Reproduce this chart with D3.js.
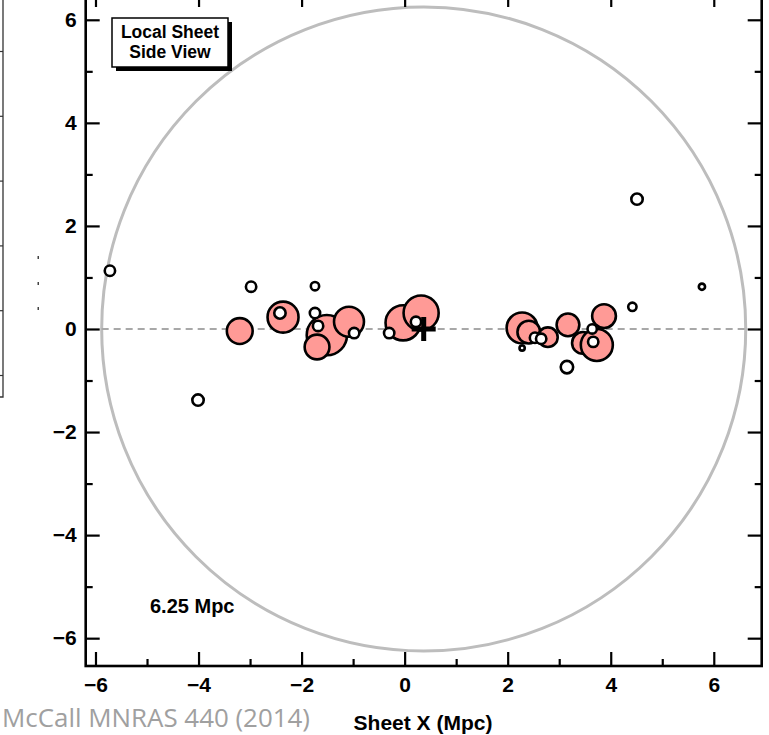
<!DOCTYPE html>
<html>
<head>
<meta charset="utf-8">
<script src="https://cdn.jsdelivr.net/npm/d3@7"></script>
<style>
  body { margin: 0; background: #fff; }
  svg { display: block; }
</style>
</head>
<body>
<div id="chart"></div>
<script>
// galaxies seen edge-on: x, z (Mpc) and symbol radius (Mpc)
const bigX = [-3.20, -2.36, -1.51, -1.70, -1.08, -0.03, 0.32, 2.28, 2.41, 2.78, 3.17, 3.46, 3.73, 3.87];
const bigZ = [-0.04, 0.23, -0.12, -0.35, 0.14, 0.12, 0.31, 0.02, -0.06, -0.16, 0.08, -0.27, -0.31, 0.25];
const bigR = [0.27, 0.32, 0.41, 0.26, 0.31, 0.36, 0.36, 0.32, 0.24, 0.21, 0.24, 0.23, 0.33, 0.25];

const smallX = [-5.72, -4.01, -2.98, -1.74, -2.42, -1.74, -1.68, -0.98, -0.30, 0.22, 4.51, 4.42, 5.77, 3.15, 2.28, 2.53, 2.65, 3.64, 3.66];
const smallZ = [1.13, -1.38, 0.82, 0.83, 0.31, 0.31, 0.06, -0.08, -0.08, 0.14, 2.52, 0.43, 0.82, -0.74, -0.37, -0.17, -0.19, 0.00, -0.25];
const smallR = [0.12, 0.13, 0.12, 0.10, 0.13, 0.12, 0.12, 0.12, 0.12, 0.12, 0.13, 0.10, 0.08, 0.14, 0.07, 0.12, 0.12, 0.11, 0.12];

const centre = [0.37, 0];
const sphereRadius = 6.25;
const majorTicks = [-6, -4, -2, 0, 2, 4, 6];
const minorTicks = [-5, -3, -1, 1, 3, 5];
const leftPanelTicks = [0, 1, 2, 3, 4, 5];

const width = 769;
const height = 735;
const plotLeft = 85.7, plotRight = 761.7, plotTop = -7, plotBottom = 666;

const svg = d3
  .select("#chart")
  .append("svg")
  .attr("width", width)
  .attr("height", height)
  .style("font-family", "'Liberation Sans', Arial, sans-serif");

const xScale = d3.scaleLinear().domain([-6.19, 6.93]).range([plotLeft, plotRight]);
const yScale = d3.scaleLinear().domain([-6.54, 6.52]).range([plotBottom, plotTop]);
const rad = (r) => xScale(r) - xScale(0);

// edge of the neighbouring panel
const panelScale = d3.scaleLinear().domain([0, 5]).range([375, 51]);
const panel = svg.append("g").attr("transform", "translate(3,0)");
panel
  .call(d3.axisLeft(panelScale).tickValues(leftPanelTicks).tickFormat("").tickSize(3).tickSizeOuter(0))
  .call((g) => g.select(".domain").remove())
  .selectAll("line")
  .attr("stroke", "#333")
  .attr("stroke-width", 1.2);
panel
  .append("path")
  .attr("d", "M0,0V397H-3")
  .attr("fill", "none")
  .attr("stroke", "#333")
  .attr("stroke-width", 1.3);

svg
  .append("g")
  .selectAll("rect")
  .data([258, 284, 309])
  .join("rect")
  .attr("x", 37.5)
  .attr("y", (d) => d - 2)
  .attr("width", 1.5)
  .attr("height", 3)
  .attr("fill", "#444");

// sphere of radius 6.25 Mpc and the sheet plane
svg
  .append("circle")
  .attr("cx", xScale(centre[0]))
  .attr("cy", yScale(centre[1]))
  .attr("r", rad(sphereRadius))
  .attr("fill", "none")
  .attr("stroke", "#bdbdbd")
  .attr("stroke-width", 3);

svg
  .append("line")
  .attr("x1", xScale(centre[0] - sphereRadius))
  .attr("x2", xScale(centre[0] + sphereRadius))
  .attr("y1", yScale(0))
  .attr("y2", yScale(0))
  .attr("stroke", "#a8a8a8")
  .attr("stroke-width", 2)
  .attr("stroke-dasharray", "7,5");

svg
  .append("g")
  .selectAll("circle")
  .data(bigX.map((x, i) => ({ x: x, z: bigZ[i], r: bigR[i] })))
  .join("circle")
  .attr("cx", (d) => xScale(d.x))
  .attr("cy", (d) => yScale(d.z))
  .attr("r", (d) => rad(d.r) - 1)
  .attr("fill", "#ff9a96")
  .attr("stroke", "#000")
  .attr("stroke-width", 2.6);

svg
  .append("g")
  .selectAll("circle")
  .data(smallX.map((x, i) => ({ x: x, z: smallZ[i], r: smallR[i] })))
  .join("circle")
  .attr("cx", (d) => xScale(d.x))
  .attr("cy", (d) => yScale(d.z))
  .attr("r", (d) => rad(d.r) - 1)
  .attr("fill", "#fff")
  .attr("stroke", "#000")
  .attr("stroke-width", 2.6);

// centroid
const cx = xScale(centre[0]);
const cy = yScale(centre[1]);
svg
  .append("path")
  .attr("d", `M${cx - 12},${cy}H${cx + 12}M${cx},${cy - 12}V${cy + 12}`)
  .attr("stroke", "#000")
  .attr("stroke-width", 5);

// axes, ticks pointing inward
const frame = svg.append("g");
const axisSpecs = [
  { axis: d3.axisBottom, scale: xScale, at: `translate(0,${plotBottom})`, labels: true },
  { axis: d3.axisTop, scale: xScale, at: `translate(0,${plotTop})`, labels: false },
  { axis: d3.axisLeft, scale: yScale, at: `translate(${plotLeft},0)`, labels: true },
  { axis: d3.axisRight, scale: yScale, at: `translate(${plotRight},0)`, labels: false },
];
axisSpecs.forEach((s) => {
  const major = frame
    .append("g")
    .attr("transform", s.at)
    .call(
      s.axis(s.scale)
        .tickValues(majorTicks)
        .tickSizeInner(-14)
        .tickSizeOuter(0)
        .tickPadding(s.axis === d3.axisBottom ? 11 : 9)
        .tickFormat(s.labels ? d3.format("d") : "")
    );
  major.select(".domain").remove();
  major.selectAll("line").attr("stroke", "#000").attr("stroke-width", 2.2);
  major
    .selectAll("text")
    .attr("fill", "#000")
    .style("font-size", "21px")
    .style("font-weight", "bold");

  const minor = frame
    .append("g")
    .attr("transform", s.at)
    .call(s.axis(s.scale).tickValues(minorTicks).tickSizeInner(-7).tickSizeOuter(0).tickFormat(""));
  minor.select(".domain").remove();
  minor.selectAll("line").attr("stroke", "#000").attr("stroke-width", 2.2);
});

frame
  .append("rect")
  .attr("x", plotLeft)
  .attr("y", plotTop)
  .attr("width", plotRight - plotLeft)
  .attr("height", plotBottom - plotTop)
  .attr("fill", "none")
  .attr("stroke", "#000")
  .attr("stroke-width", 2.6);

// title box with drop shadow
svg
  .append("rect")
  .attr("x", 116)
  .attr("y", 22)
  .attr("width", 116)
  .attr("height", 49)
  .attr("fill", "#000");
svg
  .append("rect")
  .attr("x", 112)
  .attr("y", 18)
  .attr("width", 116)
  .attr("height", 49)
  .attr("fill", "#fff")
  .attr("stroke", "#000")
  .attr("stroke-width", 1.5);
svg
  .append("text")
  .attr("x", 170)
  .attr("y", 38)
  .attr("text-anchor", "middle")
  .style("font-size", "17.5px")
  .style("font-weight", "bold")
  .text("Local Sheet");
svg
  .append("text")
  .attr("x", 170)
  .attr("y", 58)
  .attr("text-anchor", "middle")
  .style("font-size", "17.5px")
  .style("font-weight", "bold")
  .text("Side View");

svg
  .append("text")
  .attr("x", 150)
  .attr("y", 613)
  .style("font-size", "20px")
  .style("font-weight", "bold")
  .text("6.25 Mpc");

svg
  .append("text")
  .attr("x", 423)
  .attr("y", 730)
  .attr("text-anchor", "middle")
  .style("font-size", "21px")
  .style("font-weight", "bold")
  .text("Sheet X (Mpc)");

svg
  .append("text")
  .attr("x", 2)
  .attr("y", 727)
  .attr("fill", "#a0a0a0")
  .attr("textLength", 308)
  .attr("lengthAdjust", "spacingAndGlyphs")
  .style("font-family", "'Open Sans', sans-serif")
  .style("font-size", "25px")
  .text("McCall MNRAS 440 (2014)");
</script>
</body>
</html>
